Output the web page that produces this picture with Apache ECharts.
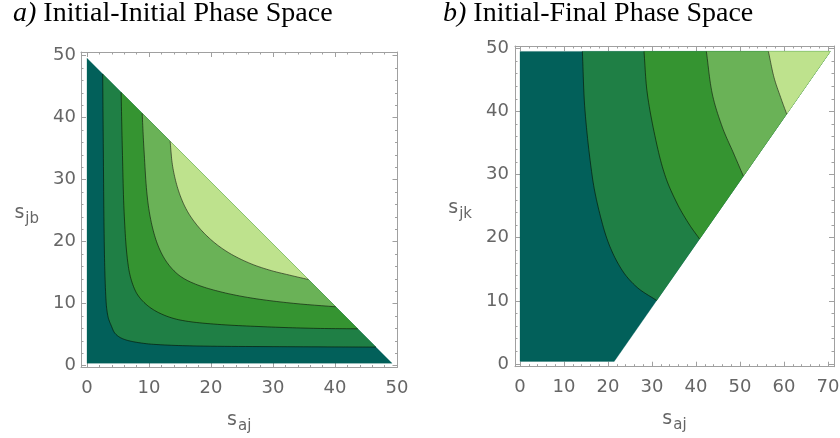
<!DOCTYPE html>
<html><head><meta charset="utf-8">
<script src="https://cdn.jsdelivr.net/npm/echarts@6/dist/echarts.min.js"></script>
<style>html,body{margin:0;padding:0;background:#fff}#c{width:840px;height:438px}</style>
</head><body><div id="c"></div>
<script>
// ---- Panel a) Initial-Initial: region and contour boundaries (s_aj, s_jb)
const aRegion = [[0,0.4],[0,49.6],[49.2,0.4]];
const aLevel1 = [[2.53,47.07],[2.63,34.8],[2.80,18.66],[3.06,10.6],[3.39,7.9],[3.98,6.29],[4.52,5.22],[5.59,4.42],[7.47,3.87],[10.7,3.45],[17.7,3.18],[31.1,3.07],[46.6,3.0]];
const aLevel2 = [[5.5,44.1],[5.70,34.8],[6.02,24.0],[6.67,16.0],[7.74,12.2],[9.35,10.06],[11.77,8.45],[15.0,7.37],[20.4,6.72],[28.4,6.29],[36.5,6.03],[43.65,5.95]];
const aLevel3 = [[8.9,40.7],[9.19,34.8],[9.78,26.7],[10.8,21.35],[12.3,17.6],[14.46,14.9],[17.15,13.3],[21.45,11.94],[26.8,10.87],[33.3,10.06],[40.1,9.5]];
const aLevel4 = [[13.4,36.2],[13.82,32.1],[14.73,28.3],[16.08,25.1],[17.96,22.4],[20.37,20.0],[23.06,18.1],[26.3,16.5],[29.5,15.4],[32.7,14.6],[35.7,13.9]];

// ---- Panel b) Initial-Final: region and contour boundaries (s_aj, s_jk)
const bRegion = [[0,0.4],[0,49.5],[70.5,49.5],[21.4,0.4]];
const bLevel1 = [[14.17,49.5],[14.77,40.1],[16.44,29.6],[17.95,24.3],[20.2,19.0],[23.25,14.8],[26.67,12.1],[31.06,10.06]];
const bLevel2 = [[28.18,49.5],[28.94,42.76],[31.06,34.84],[33.1,29.57],[35.76,25.34],[38.4,22.17],[40.8,19.8]];
const bLevel3 = [[42.35,49.5],[43.7,42.76],[45.98,37.5],[48.6,33.26],[50.76,29.76]];
const bLevel4 = [[56.45,49.5],[57.73,45.36],[59.24,42.2],[60.6,39.6]];

// ---- Tick values
const aXMajor = [0,10,20,30,40,50];
const aXMinor = [2,4,6,8,12,14,16,18,22,24,26,28,32,34,36,38,42,44,46,48];
const aYMajor = [0,10,20,30,40,50];
const aYMinor = [2,4,6,8,12,14,16,18,22,24,26,28,32,34,36,38,42,44,46,48,50];
const bXMajor = [0,10,20,30,40,50,60,70];
const bXMinor = [2,4,6,8,12,14,16,18,22,24,26,28,32,34,36,38,42,44,46,48,52,54,56,58,62,64,66,68];
const bYMajor = [0,10,20,30,40,50];
const bYMinor = [2,4,6,8,12,14,16,18,22,24,26,28,32,34,36,38,42,44,46,48];

const levelColors = ['#02605a','#1f7f45','#359431','#6ab257','#bee28d'];
const frameColor = '#a0a0a0', labelColor = '#666666';
const nameRich = {
  s:{fontSize:19, color:labelColor, fontFamily:'DejaVu Sans'},
  sub:{fontSize:15, color:labelColor, fontFamily:'DejaVu Sans', padding:[12,0,0,1]}
};

function axisSet(gi, positions, min, max, major, minor, name, nameGap, labelMargin, namePad){
  const out = [];
  positions.forEach((pos,k)=>{
    const base = {gridIndex:gi, type:'value', min:min, max:max, position:pos,
      splitLine:{show:false}, axisPointer:{show:false}};
    out.push(Object.assign({}, base, {
      axisLine:{show:true, onZero:false, lineStyle:{color:frameColor, width:1}},
      axisTick:{show:true, inside:true, length:5, customValues:major, lineStyle:{color:frameColor}},
      axisLabel: k===0 ? {show:true, customValues:major, color:labelColor, fontSize:18, fontFamily:'DejaVu Sans', margin:labelMargin} : {show:false},
      name: k===0 ? name : '', nameLocation:'middle', nameGap:nameGap, nameRotate:0,
      nameTextStyle:{rich:nameRich, padding:namePad}
    }));
    out.push(Object.assign({}, base, {
      axisLine:{show:false, onZero:false},
      axisTick:{show:true, inside:true, length:2.5, customValues:minor, lineStyle:{color:frameColor}},
      axisLabel:{show:false}
    }));
  });
  return out;
}

const xAxes = [].concat(
  axisSet(0, ['bottom','top'], -0.97, 50.08, aXMajor, aXMinor, '{s|s}{sub|aj}', 39, 12, 0),
  axisSet(1, ['bottom','top'], -1.14, 71.36, bXMajor, bXMinor, '{s|s}{sub|aj}', 39, 12, 0)
);
const yAxes = [].concat(
  axisSet(0, ['left','right'], -0.29, 50.6, aYMajor, aYMinor, '{s|s}{sub|jb}', 42, 5, [6,0,0,0]),
  axisSet(1, ['left','right'], -0.43, 50.36, bYMajor, bYMinor, '{s|s}{sub|jk}', 43, 6, [4,0,0,0])
);

// smooth a pixel-space polyline with tangent-scaled cubic segments (rendering only)
function smoothPx(px){
  const n = px.length; if (n < 3) return px.slice();
  const tan = px.map((p,i)=>{
    const a = px[Math.max(0,i-1)], b = px[Math.min(n-1,i+1)];
    const dx = b[0]-a[0], dy = b[1]-a[1], L = Math.hypot(dx,dy) || 1;
    return [dx/L, dy/L];
  });
  const out = [px[0]];
  for (let i=0;i<n-1;i++){
    const p = px[i], q = px[i+1], d = Math.hypot(q[0]-p[0], q[1]-p[1]) / 3;
    const c1 = [p[0]+tan[i][0]*d, p[1]+tan[i][1]*d];
    const c2 = [q[0]-tan[i+1][0]*d, q[1]-tan[i+1][1]*d];
    for (let k=1;k<=12;k++){
      const t = k/12, u = 1-t;
      out.push([u*u*u*p[0]+3*u*u*t*c1[0]+3*u*t*t*c2[0]+t*t*t*q[0],
                u*u*u*p[1]+3*u*u*t*c1[1]+3*u*t*t*c2[1]+t*t*t*q[1]]);
    }
  }
  return out;
}

function fillSeries(gi, curve, extra, color, smooth){
  return {type:'custom', xAxisIndex:gi*4, yAxisIndex:gi*4, data:curve.concat(extra), encode:{x:0,y:1},
    silent:true, z:1,
    renderItem:function(params, api){
      if (params.dataIndex !== 0) return null;
      let pts = curve.map(p=>api.coord(p));
      if (smooth) pts = smoothPx(pts);
      pts = pts.concat(extra.map(p=>api.coord(p)));
      return {type:'polygon', shape:{points:pts}, style:{fill:color, stroke:color, lineWidth:0.3}};
    }};
}
function lineSeries(gi, curve){
  return {type:'custom', xAxisIndex:gi*4, yAxisIndex:gi*4, data:curve, encode:{x:0,y:1},
    silent:true, z:3,
    renderItem:function(params, api){
      if (params.dataIndex !== 0) return null;
      return {type:'polyline', shape:{points:smoothPx(curve.map(p=>api.coord(p)))},
        style:{fill:null, stroke:'rgba(0,0,0,0.55)', lineWidth:1}};
    }};
}

const aLevels = [aLevel1,aLevel2,aLevel3,aLevel4];
const bLevels = [bLevel1,bLevel2,bLevel3,bLevel4];
const series = [];
series.push(fillSeries(0, aRegion, [], levelColors[0], false));
aLevels.forEach((lv,i)=>series.push(fillSeries(0, lv, [], levelColors[i+1], true)));
series.push(fillSeries(1, bRegion, [], levelColors[0], false));
bLevels.forEach((lv,i)=>series.push(fillSeries(1, lv, [bRegion[2]], levelColors[i+1], true)));
aLevels.forEach(lv=>series.push(lineSeries(0, lv)));
bLevels.forEach(lv=>series.push(lineSeries(1, lv)));

const serif = '"Liberation Serif", "Times New Roman", serif';
const titleRich = {
  i:{fontFamily:serif, fontStyle:'italic', fontWeight:'normal', fontSize:28, lineHeight:28, color:'#000'},
  n:{fontFamily:serif, fontWeight:'normal', fontSize:28, lineHeight:28, color:'#000'}
};
const titleStyle = {fontFamily:serif, fontWeight:'normal', fontSize:28, lineHeight:28, color:'#000', rich:titleRich};
const chart = echarts.init(document.getElementById('c'), null, {renderer:'canvas'});
chart.setOption({
  animation:false,
  backgroundColor:'#fff',
  title:[
    {text:'{i|a)} {n|Initial-Initial Phase Space}', left:13, top:0, padding:0, textStyle:titleStyle},
    {text:'{i|b)} {n|Initial-Final Phase Space}', left:443, top:0, padding:0, textStyle:titleStyle}
  ],
  grid:[
    {left:81, top:52, width:316.5, height:315.5, outerBoundsMode:'none'},
    {left:515, top:46, width:319, height:320.7, outerBoundsMode:'none'}
  ],
  xAxis:xAxes,
  yAxis:yAxes,
  series:series
});
</script>
</body></html>
